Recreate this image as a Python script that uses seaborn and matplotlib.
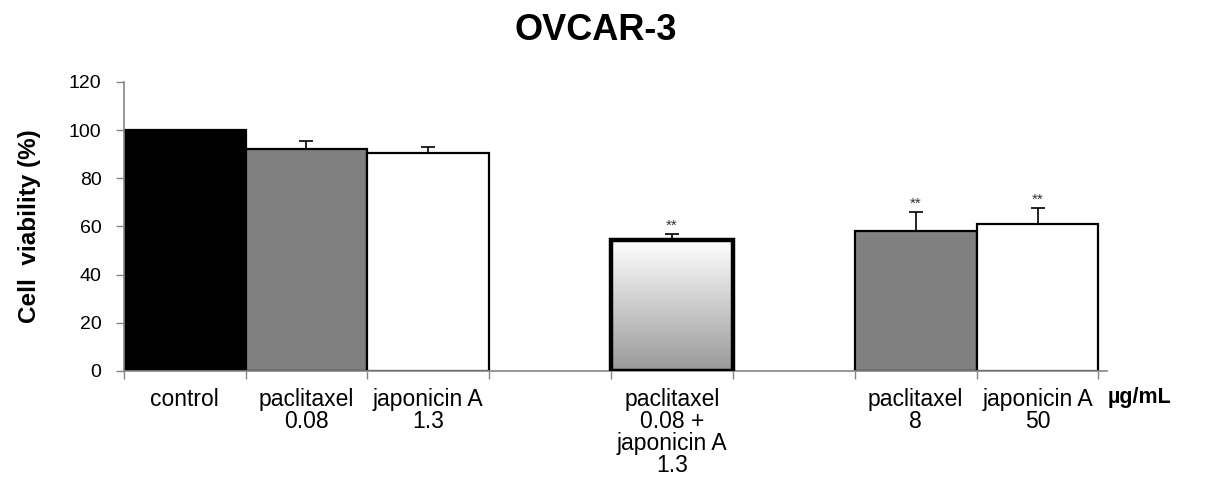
import numpy as np
import pandas as pd
import matplotlib
matplotlib.use("Agg")
import matplotlib.pyplot as plt
import seaborn as sns

# ---- data ----
slots = ["control", "paclitaxel\n0.08", "japonicin A\n1.3", " ",
         "paclitaxel\n0.08 +\njaponicin A\n1.3", "  ", "paclitaxel\n8", "japonicin A\n50"]
categories = ["control", "paclitaxel\n0.08", "japonicin A\n1.3",
              "paclitaxel\n0.08 +\njaponicin A\n1.3", "paclitaxel\n8", "japonicin A\n50"]
viability = [100, 92, 90.5, 54.3, 58.3, 61]
sd = [0, 3.5, 2.5, 2.5, 7.5, 6.5]
signif = ["", "", "", "**", "**", "**"]
bar_colors = ["#000000", "#808080", "#ffffff", "#ffffff", "#808080", "#ffffff"]

df = pd.DataFrame({"group": categories, "viability": viability})

sns.set_theme(style="white")
plt.rcParams["font.family"] = ["Liberation Sans", "DejaVu Sans"]
plt.rcParams["text.color"] = "black"
plt.rcParams["axes.labelcolor"] = "black"

fig = plt.figure(figsize=(12.13, 4.88), dpi=100)
ax = fig.add_axes([0.102, 0.2398, 0.8106, 0.5924])

sns.barplot(data=df, x="group", y="viability", hue="group", order=slots,
            hue_order=categories, palette=dict(zip(categories, bar_colors)),
            width=1.0, dodge=False, legend=False, errorbar=None, ax=ax,
            edgecolor="black", linewidth=1.6, saturation=1)

pos = [slots.index(c) for c in categories]

# gradient for combination bar
combo_idx = 3
for p in list(ax.patches):
    x0 = p.get_x()
    if abs(x0 + p.get_width() / 2 - pos[combo_idx]) < 1e-6 and p.get_height() > 0:
        p.set_linewidth(3.2)
        p.set_zorder(3)
        p.set_facecolor("none")
        grad = np.linspace(0, 1, 256).reshape(-1, 1)
        im = ax.imshow(grad, extent=[x0, x0 + p.get_width(), 0, p.get_height()],
                       aspect="auto", cmap=matplotlib.colors.LinearSegmentedColormap.from_list(
                           "g", ["#999999", "#ffffff"]), origin="lower", zorder=2)
        im.set_clip_path(p)

# error bars (upper only)
ax.errorbar(pos, viability, yerr=[np.zeros(len(sd)), sd], fmt="none",
            ecolor="black", elinewidth=1.2, capsize=5, capthick=1.2, zorder=4)

for x, v, e, s in zip(pos, viability, sd, signif):
    if s:
        ax.text(x, v + e + 3.5, s, ha="center", va="center", fontsize=11,
                color="#333333")

ax.set_xlim(-0.5, 7.57)
ax.set_ylim(0, 120)
ax.set_yticks(np.arange(0, 121, 20))
ax.tick_params(axis="y", labelsize=14, colors="#868686", labelcolor="black",
               length=6, width=1, direction="out", left=True, pad=10)

ax.set_xticks(np.arange(-0.5, 8, 1))
ax.set_xticklabels([])
ax.set_xticks(range(len(slots)), minor=True)
ax.set_xticklabels(slots, minor=True, fontsize=16.5, linespacing=0.95,
                   va="top")
ax.tick_params(axis="x", which="major", colors="#868686", length=6, width=1,
               direction="out", bottom=True)
ax.tick_params(axis="x", which="minor", length=0, pad=12, labelcolor="black")

for side in ["top", "right"]:
    ax.spines[side].set_visible(False)
for side in ["left", "bottom"]:
    ax.spines[side].set_color("#868686")
    ax.spines[side].set_linewidth(1.2)

ax.set_xlabel("")
ax.set_ylabel("Cell  viability (%)", fontsize=17.5, fontweight="bold", labelpad=20)
fig.text(596 / 1213, 1 - 30 / 488, "OVCAR-3", fontsize=26, fontweight="bold",
         ha="center", va="center")

fig.text(1108 / 1213, 1 - 398 / 488, "µg/mL", fontsize=15.5, fontweight="bold",
         ha="left", va="center")

fig.savefig("out.png", dpi=100)
